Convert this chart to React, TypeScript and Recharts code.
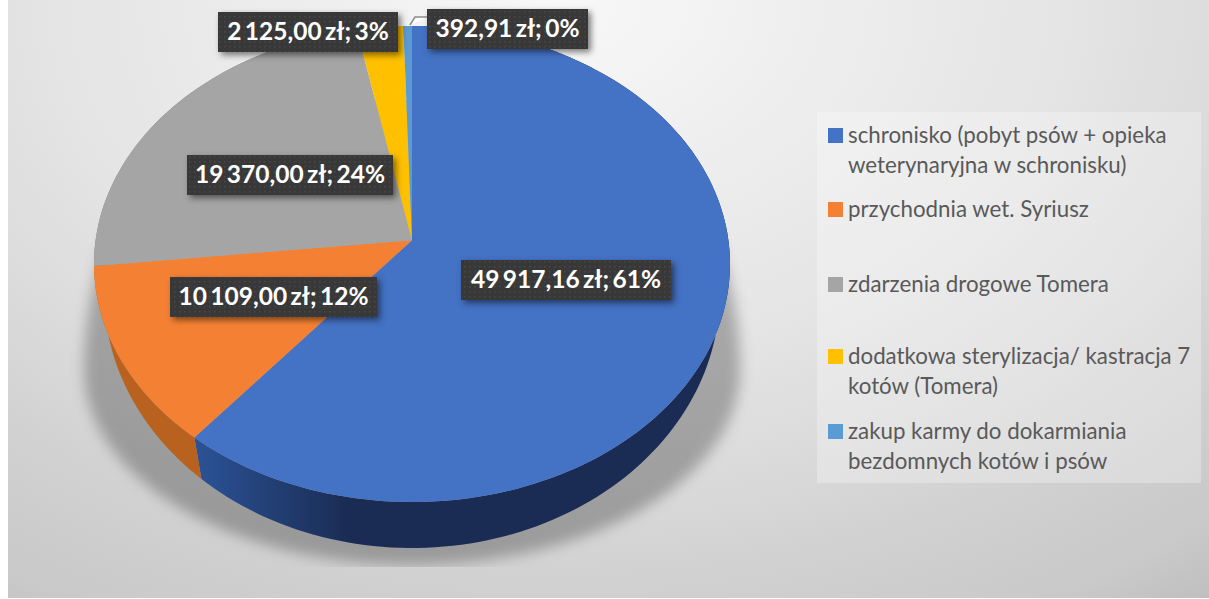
import React from 'react';
import { PieChart, Pie, Legend } from 'recharts';

const categories = [
  'schronisko (pobyt psów + opieka weterynaryjna w schronisku)',
  'przychodnia wet. Syriusz',
  'zdarzenia drogowe Tomera',
  'dodatkowa sterylizacja/ kastracja 7 kotów (Tomera)',
  'zakup karmy do dokarmiania bezdomnych kotów i psów',
];
const amounts = [49917.16, 10109, 19370, 2125, 392.91];
const amountLabels = ['49 917,16 zł', '10 109,00 zł', '19 370,00 zł', '2 125,00 zł', '392,91 zł'];
const legendLines = [
  ['schronisko (pobyt psów + opieka', 'weterynaryjna w schronisku)'],
  ['przychodnia wet. Syriusz'],
  ['zdarzenia drogowe Tomera'],
  ['dodatkowa sterylizacja/ kastracja 7', 'kotów (Tomera)'],
  ['zakup karmy do dokarmiania', 'bezdomnych kotów i psów'],
];
const colors = ['#4472C4', '#F48133', '#A5A5A5', '#FFC000', '#5B9BD5'];
const sideColors = ['url(#blueSide)', '#B9611F', '#7C7C7C', '#BF9000', '#2E75B6'];

// layout (chart coordinates)
const W = 1201;
const H = 598;
const CX = 404;
const CY = 264;
const R = 318;
const labelBoxes = [
  { x: 453, y: 260, w: 210, h: 40 },
  { x: 162, y: 277, w: 207, h: 40 },
  { x: 179, y: 155, w: 206, h: 40 },
  { x: 210, y: 12, w: 180, h: 40 },
  { x: 419, y: 9, w: 161, h: 40 },
];
const legendTops = [11, 85, 160, 232, 307];

const table = categories.map((name, i) => ({ name, value: amounts[i], fill: colors[i] }));

const RY = 238 / 318;
const K = -0.1;
const persp = (angle: number) => {
  const t = ((90 - angle) * Math.PI) / 180;
  const u = Math.sin(t);
  const v = -Math.cos(t);
  const d = 1 + K * v;
  return { u: (u * Math.sqrt(1 - K * K)) / d, v: (v + K) / d };
};
const samples = (a0: number, a1: number) => {
  const n = Math.max(2, Math.ceil(Math.abs(a1 - a0) / 1.5));
  return Array.from({ length: n + 1 }, (_, i) => persp(a0 + ((a1 - a0) * i) / n));
};

const TopShape = (p: any) => {
  const pts = samples(p.startAngle, p.endAngle).map(
    (q) => `${(p.cx + p.outerRadius * q.u).toFixed(1)},${(p.cy + p.outerRadius * RY * q.v).toFixed(1)}`
  );
  const ax = p.cx;
  const ay = p.cy + p.outerRadius * RY * K;
  return <path d={`M${ax},${ay} L${pts.join(' L')} Z`} fill={p.fill} stroke="none" />;
};

const SideShape = (p: any) => {
  const s = samples(p.startAngle, p.endAngle);
  const top = s.map((q) => `${(p.cx + p.outerRadius * q.u).toFixed(1)},${(p.cy + p.outerRadius * RY * q.v).toFixed(1)}`);
  const low = s
    .map((q) => `${(p.cx + p.outerRadius * 0.968 * q.u).toFixed(1)},${(p.cy + 29 + p.outerRadius * (255 / 318) * q.v).toFixed(1)}`)
    .reverse();
  const idx = colors.indexOf(p.fill);
  return <path d={`M${top.join(' L')} L${low.join(' L')} Z`} fill={sideColors[idx]} stroke="none" />;
};

const renderLabel = (p: any) => {
  const b = labelBoxes[p.index];
  const pct = Math.round(p.percent * 100);
  return (
    <g>
      {p.index === 4 && (
        <polyline points="402,25 407,17 420,17" fill="#ffffff" stroke="#8c8c8c" strokeWidth={1.5} />
      )}
      <rect x={b.x} y={b.y} width={b.w} height={b.h} fill="url(#dots)" style={{ filter: 'drop-shadow(3px 3px 3px rgba(0,0,0,0.5))' }} />
      <text
        x={b.x + b.w / 2}
        y={b.y + b.h / 2 + 8}
        textAnchor="middle"
        fontFamily="Lato, sans-serif"
        fontWeight={700}
        fontSize={24.5}
        wordSpacing={-2.5}
        fill="#ffffff"
      >
        {`${amountLabels[p.index]}; ${pct}%`}
      </text>
    </g>
  );
};

const renderLegend = (props: any) => {
  const items = (props.payload || []).filter((e: any) => e.type !== 'none');
  return (
    <div style={{ width: 384, height: 371, background: 'rgba(255,255,255,0.28)', position: 'relative', fontFamily: 'Lato, sans-serif', fontSize: 22.3, color: '#595959' }}>
      {items.map((e: any, i: number) => (
        <div key={i} style={{ position: 'absolute', left: 11, top: legendTops[i], display: 'flex' }}>
          <div style={{ width: 15, height: 15, marginTop: 5, background: e.color, flexShrink: 0 }} />
          <div style={{ marginLeft: 5, lineHeight: '30px', marginTop: -3, whiteSpace: 'nowrap' }}>
            {legendLines[i].map((l) => (
              <div key={l}>{l}</div>
            ))}
          </div>
        </div>
      ))}
    </div>
  );
};

export default function App() {
  return (
    <div
      style={{
        position: 'absolute',
        left: 8,
        top: 0,
        width: W,
        height: H,
        background:
          'radial-gradient(ellipse 1100px 780px at 552px 0px, #f8f8f8 0%, #e4e4e4 47%, #dcdcdc 60%, #d0d0d0 76%, #c9c9c9 89%, #bbbbbb 100%)',
      }}
    >
      <svg width={W} height={H} style={{ position: 'absolute', left: 0, top: 0 }}>
        <defs>
          <filter id="blurShadow" x="-20%" y="-20%" width="140%" height="140%">
            <feGaussianBlur stdDeviation="7" />
          </filter>
          <clipPath id="shadowClip">
            <rect x={50} y={100} width={720} height={467} />
          </clipPath>
        </defs>
        <g clipPath="url(#shadowClip)">
          <path
            d={`M${CX - 328},370 A328 355 0 0 1 ${CX + 328},370 A328 195 0 0 1 ${CX - 328},370 Z`}
            fill="rgba(0,0,0,0.27)"
            filter="url(#blurShadow)"
          />
        </g>
      </svg>
      <div style={{ position: 'absolute', left: 0, top: 0 }}>
        <PieChart width={W} height={H} margin={{ top: 0, right: 0, bottom: 0, left: 0 }}>
          <defs>
            <linearGradient id="blueSide" gradientUnits="userSpaceOnUse" x1={190} y1={0} x2={340} y2={0}>
              <stop offset="0%" stopColor="#2B5295" />
              <stop offset="100%" stopColor="#1A2C54" />
            </linearGradient>
            <pattern id="dots" width={5} height={5} patternUnits="userSpaceOnUse">
              <rect width={5} height={5} fill="#383838" />
              <rect x={1} y={1} width={1.5} height={1.5} fill="#484848" />
            </pattern>
          </defs>
          <Pie
            data={table}
            dataKey="value"
            nameKey="name"
            cx={CX}
            cy={CY}
            outerRadius={R}
            startAngle={90}
            endAngle={-270}
            stroke="none"
            legendType="none"
            isAnimationActive={false}
            shape={SideShape}
          />
          <Pie
            data={table}
            dataKey="value"
            nameKey="name"
            cx={CX}
            cy={CY}
            outerRadius={R}
            startAngle={90}
            endAngle={-270}
            stroke="none"
            isAnimationActive={false}
            shape={TopShape}
            label={renderLabel}
            labelLine={false}
          />
          <Legend content={renderLegend} itemSorter={null} wrapperStyle={{ position: 'absolute', left: 809, top: 112, width: 384, height: 371 }} />
        </PieChart>
      </div>
    </div>
  );
}
